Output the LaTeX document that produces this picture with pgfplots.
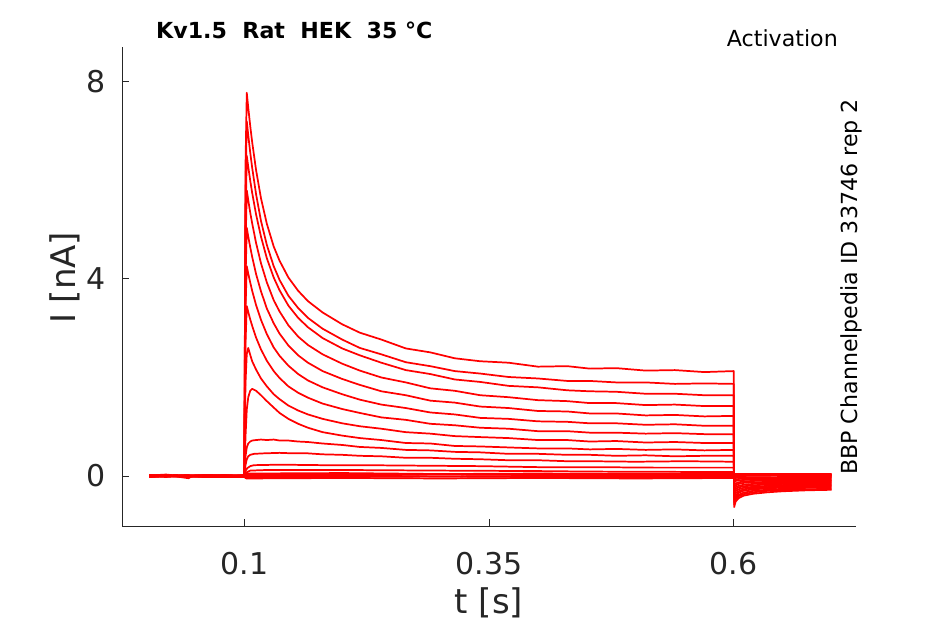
\documentclass[border=0pt]{standalone}
\usepackage{pgfplots}
\pgfplotsset{compat=1.18}
\usepackage{fontspec}
\setmainfont{DejaVu Sans}
\definecolor{axgray}{RGB}{38,38,38}
\pgfplotsset{tr/.style={color=red, solid, line width=1.3pt, line join=round, mark=none}}
\begin{document}
\begin{tikzpicture}
\path[use as bounding box] (0,0) rectangle (708.75pt,468pt);
\begin{axis}[
  at={(91.5pt,73.5pt)}, anchor=south west,
  width=550.5pt, height=359.25pt, scale only axis,
  xmin=-0.025, xmax=0.725, ymin=-1.015, ymax=8.71,
  axis lines=left,
  axis line style={-, draw=axgray, line width=0.75pt},
  clip=false,
  xtick={0.1,0.35,0.6}, xticklabels={0.1,0.35,0.6},
  ytick={0,4,8}, yticklabels={0,4,8},
  tick align=inside, major tick length=5.25pt,
  tick style={draw=axgray, line width=0.75pt},
  xticklabel style={anchor=north, inner sep=0pt, yshift=-19.5pt, text=axgray, font=\fontsize{22.5}{27}\selectfont},
  yticklabel style={anchor=east, inner sep=0pt, xshift=-12pt, text=axgray, font=\fontsize{22.5}{27}\selectfont},
  xlabel={t [s]}, ylabel={I [nA]},
  xlabel style={at={(axis description cs:0.5,-0.1608)}, anchor=center, inner sep=0pt, text=axgray, font=\fontsize{25.5}{30}\selectfont},
  ylabel style={at={(axis description cs:-0.0777,0.518)}, anchor=center, inner sep=0pt, text=axgray, font=\fontsize{25.5}{30}\selectfont},
  title={Kv1.5\ \ Rat\ \ HEK\ \ 35 °C},
  title style={at={(axis description cs:0.0463,1.0)}, anchor=base west, inner sep=0pt, text=black, font=\bfseries\fontsize{16.6}{20}\selectfont},
]
% T1
\addplot[tr] coordinates {(0.003,0.01) (0.02,0.03) (0.04,-0.01) (0.06,0.02) (0.08,0.00) (0.1,0.01) (0.1012,6.3) (0.1025,7.78) (0.104,7.48) (0.106,7.11) (0.108,6.78) (0.112,6.21) (0.117,5.64) (0.123,5.12) (0.13,4.66) (0.136,4.37) (0.145,4.03) (0.155,3.76) (0.165,3.55) (0.18,3.32) (0.2,3.08) (0.218,2.91) (0.24,2.77) (0.265,2.59) (0.29,2.51) (0.315,2.39) (0.341,2.33) (0.37,2.30) (0.4,2.22) (0.43,2.23) (0.453,2.18) (0.48,2.19) (0.51,2.14) (0.54,2.15) (0.57,2.11) (0.6,2.13) (0.6005,-0.63) (0.602,-0.52) (0.605,-0.45) (0.61,-0.40) (0.62,-0.36) (0.635,-0.33) (0.65,-0.31) (0.675,-0.29) (0.7,-0.28)};
% T2
\addplot[tr] coordinates {(0.003,-0.01) (0.02,0.01) (0.04,0.0) (0.06,-0.02) (0.08,0.01) (0.1,-0.01) (0.1012,5.8) (0.1025,7.20) (0.104,6.92) (0.106,6.57) (0.108,6.26) (0.112,5.72) (0.117,5.18) (0.123,4.69) (0.13,4.26) (0.136,3.98) (0.145,3.66) (0.155,3.41) (0.165,3.21) (0.18,2.99) (0.2,2.77) (0.218,2.60) (0.24,2.47) (0.265,2.31) (0.29,2.23) (0.315,2.13) (0.341,2.08) (0.37,2.01) (0.4,1.98) (0.43,1.93) (0.453,1.93) (0.48,1.90) (0.51,1.90) (0.54,1.87) (0.57,1.88) (0.6,1.87) (0.6005,-0.58) (0.602,-0.48) (0.605,-0.41) (0.61,-0.37) (0.62,-0.33) (0.635,-0.30) (0.65,-0.285) (0.675,-0.27) (0.7,-0.26)};
% T3
\addplot[tr] coordinates {(0.003,0.02) (0.02,0.0) (0.04,0.02) (0.06,0.01) (0.08,-0.01) (0.1,0.02) (0.1012,5.2) (0.1025,6.50) (0.104,6.28) (0.106,6.00) (0.108,5.75) (0.112,5.31) (0.117,4.86) (0.123,4.42) (0.13,4.03) (0.136,3.77) (0.145,3.46) (0.155,3.21) (0.165,3.02) (0.18,2.80) (0.2,2.59) (0.218,2.45) (0.24,2.30) (0.265,2.15) (0.29,2.07) (0.315,1.96) (0.341,1.91) (0.37,1.83) (0.4,1.80) (0.43,1.74) (0.453,1.72) (0.48,1.71) (0.51,1.67) (0.54,1.67) (0.57,1.64) (0.6,1.64) (0.6005,-0.53) (0.602,-0.44) (0.605,-0.38) (0.61,-0.34) (0.62,-0.30) (0.635,-0.28) (0.65,-0.26) (0.675,-0.24) (0.7,-0.235)};
% T4
\addplot[tr] coordinates {(0.003,0.0) (0.02,0.02) (0.04,-0.02) (0.06,0.01) (0.08,0.02) (0.1,0.0) (0.1012,4.6) (0.1025,5.80) (0.104,5.60) (0.106,5.35) (0.108,5.13) (0.112,4.73) (0.117,4.32) (0.123,3.93) (0.13,3.57) (0.136,3.34) (0.145,3.06) (0.155,2.83) (0.165,2.66) (0.18,2.47) (0.2,2.28) (0.218,2.14) (0.24,2.00) (0.265,1.90) (0.29,1.78) (0.315,1.73) (0.341,1.64) (0.37,1.60) (0.4,1.54) (0.43,1.52) (0.453,1.48) (0.48,1.48) (0.51,1.44) (0.54,1.45) (0.57,1.42) (0.6,1.42) (0.6005,-0.48) (0.602,-0.40) (0.605,-0.34) (0.61,-0.30) (0.62,-0.27) (0.635,-0.25) (0.65,-0.235) (0.675,-0.22) (0.7,-0.21)};
% T5
\addplot[tr] coordinates {(0.003,-0.02) (0.02,0.0) (0.04,0.01) (0.06,-0.01) (0.08,0.0) (0.1,-0.02) (0.1012,4.0) (0.1025,5.04) (0.104,4.86) (0.106,4.65) (0.108,4.45) (0.112,4.10) (0.117,3.75) (0.123,3.40) (0.13,3.10) (0.136,2.89) (0.145,2.65) (0.155,2.45) (0.165,2.30) (0.18,2.13) (0.2,1.97) (0.218,1.85) (0.24,1.72) (0.265,1.64) (0.29,1.53) (0.315,1.49) (0.341,1.41) (0.37,1.38) (0.4,1.32) (0.43,1.31) (0.453,1.27) (0.48,1.27) (0.51,1.23) (0.54,1.24) (0.57,1.21) (0.6,1.22) (0.6005,-0.43) (0.602,-0.35) (0.605,-0.31) (0.61,-0.27) (0.62,-0.245) (0.635,-0.225) (0.65,-0.21) (0.675,-0.20) (0.7,-0.19)};
% T6
\addplot[tr] coordinates {(0.003,0.01) (0.02,-0.01) (0.04,0.0) (0.06,0.02) (0.08,-0.01) (0.1,0.01) (0.1012,3.4) (0.1025,4.26) (0.104,4.11) (0.106,3.93) (0.108,3.76) (0.112,3.47) (0.117,3.17) (0.123,2.88) (0.13,2.61) (0.136,2.44) (0.145,2.24) (0.155,2.07) (0.165,1.94) (0.18,1.80) (0.2,1.66) (0.218,1.55) (0.24,1.45) (0.265,1.38) (0.29,1.29) (0.315,1.25) (0.341,1.18) (0.37,1.16) (0.4,1.11) (0.43,1.10) (0.453,1.07) (0.48,1.07) (0.51,1.04) (0.54,1.05) (0.57,1.02) (0.6,1.02) (0.6005,-0.38) (0.602,-0.31) (0.605,-0.27) (0.61,-0.24) (0.62,-0.22) (0.635,-0.20) (0.65,-0.185) (0.675,-0.175) (0.7,-0.17)};
% T7
\addplot[tr] coordinates {(0.003,-0.01) (0.02,0.01) (0.04,-0.01) (0.06,0.0) (0.08,0.02) (0.1,-0.01) (0.1012,2.7) (0.1025,3.45) (0.104,3.33) (0.106,3.18) (0.108,3.05) (0.112,2.81) (0.117,2.57) (0.123,2.34) (0.13,2.13) (0.136,1.99) (0.145,1.82) (0.155,1.69) (0.165,1.59) (0.18,1.47) (0.2,1.36) (0.218,1.28) (0.24,1.19) (0.265,1.14) (0.29,1.06) (0.315,1.03) (0.341,0.98) (0.37,0.96) (0.4,0.91) (0.43,0.91) (0.453,0.88) (0.48,0.88) (0.51,0.86) (0.54,0.87) (0.57,0.85) (0.6,0.85) (0.6005,-0.33) (0.602,-0.27) (0.605,-0.23) (0.61,-0.21) (0.62,-0.19) (0.635,-0.17) (0.65,-0.16) (0.675,-0.15) (0.7,-0.145)};
% T8
\addplot[tr] coordinates {(0.003,0.02) (0.02,0.0) (0.04,-0.01) (0.06,0.01) (0.08,0.0) (0.1,0.02) (0.1012,1.9) (0.1025,2.48) (0.104,2.60) (0.106,2.46) (0.108,2.33) (0.112,2.16) (0.117,1.98) (0.123,1.82) (0.13,1.66) (0.136,1.56) (0.145,1.43) (0.155,1.33) (0.165,1.25) (0.18,1.16) (0.2,1.07) (0.218,1.01) (0.24,0.96) (0.265,0.89) (0.29,0.86) (0.315,0.81) (0.341,0.79) (0.37,0.77) (0.4,0.73) (0.43,0.73) (0.453,0.70) (0.48,0.71) (0.51,0.68) (0.54,0.69) (0.57,0.67) (0.6,0.67) (0.6005,-0.28) (0.602,-0.23) (0.605,-0.20) (0.61,-0.18) (0.62,-0.16) (0.635,-0.145) (0.65,-0.135) (0.675,-0.13) (0.7,-0.125)};
% T9
\addplot[tr] coordinates {(0.003,0.0) (0.02,0.02) (0.043,-0.045) (0.046,-0.01) (0.06,0.0) (0.08,0.01) (0.1,0.0) (0.1012,0.80) (0.1025,1.35) (0.104,1.60) (0.106,1.73) (0.108,1.77) (0.112,1.73) (0.117,1.64) (0.123,1.52) (0.13,1.39) (0.136,1.28) (0.145,1.16) (0.155,1.06) (0.165,0.98) (0.18,0.89) (0.2,0.82) (0.218,0.77) (0.24,0.73) (0.265,0.67) (0.29,0.66) (0.315,0.61) (0.341,0.60) (0.37,0.58) (0.4,0.56) (0.43,0.56) (0.453,0.54) (0.48,0.55) (0.51,0.53) (0.54,0.54) (0.57,0.52) (0.6,0.53) (0.6005,-0.23) (0.602,-0.19) (0.605,-0.16) (0.61,-0.14) (0.62,-0.13) (0.635,-0.12) (0.65,-0.11) (0.675,-0.105) (0.7,-0.10)};
% T10
\addplot[tr] coordinates {(0.003,-0.02) (0.02,0.0) (0.04,0.01) (0.06,-0.02) (0.08,0.0) (0.1,-0.02) (0.1012,0.40) (0.1025,0.58) (0.104,0.66) (0.106,0.70) (0.108,0.72) (0.112,0.73) (0.117,0.74) (0.123,0.73) (0.13,0.74) (0.136,0.72) (0.145,0.72) (0.155,0.70) (0.165,0.69) (0.18,0.66) (0.2,0.63) (0.218,0.59) (0.24,0.57) (0.265,0.53) (0.29,0.52) (0.315,0.49) (0.341,0.48) (0.37,0.45) (0.4,0.45) (0.43,0.43) (0.453,0.43) (0.48,0.41) (0.51,0.42) (0.54,0.40) (0.57,0.41) (0.6,0.41) (0.6005,-0.18) (0.602,-0.15) (0.605,-0.13) (0.61,-0.11) (0.62,-0.10) (0.635,-0.09) (0.65,-0.085) (0.675,-0.08) (0.7,-0.08)};
% T11
\addplot[tr] coordinates {(0.003,0.01) (0.02,-0.01) (0.04,0.0) (0.06,0.01) (0.08,-0.02) (0.1,0.01) (0.1012,0.22) (0.1025,0.34) (0.104,0.40) (0.106,0.43) (0.11,0.45) (0.12,0.46) (0.136,0.47) (0.15,0.46) (0.165,0.46) (0.18,0.44) (0.2,0.43) (0.218,0.41) (0.24,0.40) (0.265,0.37) (0.29,0.37) (0.315,0.35) (0.341,0.34) (0.37,0.32) (0.4,0.32) (0.43,0.30) (0.453,0.30) (0.5,0.29) (0.55,0.30) (0.6,0.29) (0.6005,-0.13) (0.602,-0.10) (0.605,-0.09) (0.61,-0.08) (0.62,-0.07) (0.635,-0.065) (0.65,-0.06) (0.675,-0.06) (0.7,-0.055)};
% T12
\addplot[tr] coordinates {(0.003,-0.01) (0.02,0.01) (0.04,-0.02) (0.06,0.0) (0.08,0.01) (0.1,-0.01) (0.1012,0.10) (0.103,0.16) (0.106,0.20) (0.11,0.22) (0.136,0.23) (0.18,0.22) (0.218,0.22) (0.28,0.21) (0.341,0.20) (0.4,0.18) (0.453,0.18) (0.52,0.17) (0.6,0.17) (0.6005,-0.08) (0.602,-0.07) (0.605,-0.06) (0.61,-0.05) (0.62,-0.047) (0.635,-0.043) (0.65,-0.04) (0.675,-0.038) (0.7,-0.036)};
% T13
\addplot[tr] coordinates {(0.003,0.0) (0.02,-0.02) (0.04,0.01) (0.06,0.0) (0.08,-0.01) (0.1,0.0) (0.102,0.07) (0.106,0.11) (0.12,0.12) (0.218,0.12) (0.3,0.11) (0.4,0.10) (0.453,0.09) (0.6,0.08) (0.6005,-0.045) (0.605,-0.03) (0.62,-0.025) (0.65,-0.022) (0.7,-0.02)};
% near-zero traces
\addplot[tr] coordinates {(0.003,0.02) (0.03,0.0) (0.06,0.02) (0.1,0.01) (0.102,0.05) (0.2,0.06) (0.3,0.04) (0.4,0.05) (0.5,0.04) (0.6,0.05) (0.6005,0.0) (0.65,0.01) (0.7,0.0)};
\addplot[tr] coordinates {(0.003,0.0) (0.03,0.02) (0.06,-0.01) (0.1,0.0) (0.102,0.03) (0.2,0.02) (0.3,0.03) (0.4,0.02) (0.5,0.03) (0.6,0.02) (0.6005,0.01) (0.65,0.02) (0.7,0.01)};
\addplot[tr] coordinates {(0.003,-0.01) (0.03,0.01) (0.06,0.0) (0.1,-0.01) (0.102,0.0) (0.2,0.01) (0.3,-0.01) (0.4,0.0) (0.5,0.01) (0.6,0.0) (0.6005,0.02) (0.65,0.02) (0.7,0.02)};
\addplot[tr] coordinates {(0.003,0.01) (0.03,-0.01) (0.06,0.01) (0.1,0.01) (0.102,-0.02) (0.2,-0.02) (0.3,-0.01) (0.4,-0.02) (0.5,-0.02) (0.6,-0.02) (0.6005,0.03) (0.65,0.03) (0.7,0.03)};
\addplot[tr] coordinates {(0.003,-0.02) (0.03,0.0) (0.06,-0.02) (0.1,-0.02) (0.102,-0.05) (0.2,-0.04) (0.3,-0.05) (0.4,-0.04) (0.5,-0.05) (0.6,-0.04) (0.6005,0.04) (0.65,0.04) (0.7,0.04)};
\node[anchor=base east, inner sep=0pt, text=black, font=\fontsize{16.6}{20}\selectfont] at (axis description cs:0.9755,1.0) {Activation};
\node[rotate=90, anchor=base, inner sep=0pt, text=black, font=\fontsize{16.6}{20}\selectfont] at (axis description cs:1.0027,0.499) {BBP Channelpedia ID 33746 rep 2};
\end{axis}
\end{tikzpicture}
\end{document}
